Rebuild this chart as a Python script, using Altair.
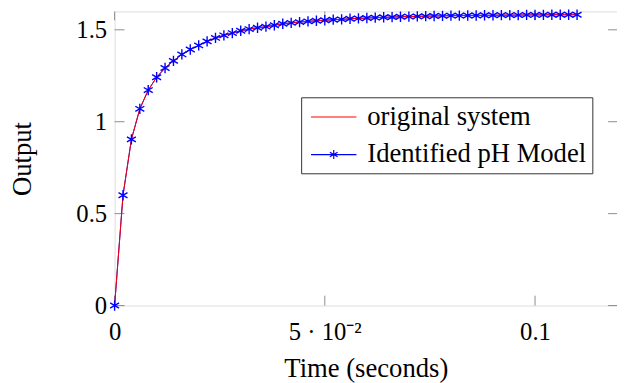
import altair as alt
import pandas as pd

# ---- data ----
time_s = [0.000, 0.002, 0.004, 0.006, 0.008, 0.010, 0.012, 0.014, 0.016, 0.018,
          0.020, 0.022, 0.024, 0.026, 0.028, 0.030, 0.032, 0.034, 0.036, 0.038,
          0.040, 0.042, 0.044, 0.046, 0.048, 0.050, 0.052, 0.054, 0.056, 0.058,
          0.060, 0.062, 0.064, 0.066, 0.068, 0.070, 0.072, 0.074, 0.076, 0.078,
          0.080, 0.082, 0.084, 0.086, 0.088, 0.090, 0.092, 0.094, 0.096, 0.098,
          0.100, 0.102, 0.104, 0.106, 0.108, 0.110]
original_system = [0.000, 0.600, 0.904, 1.070, 1.172, 1.242, 1.292, 1.331, 1.366, 1.393,
                   1.415, 1.437, 1.456, 1.470, 1.482, 1.495, 1.504, 1.511, 1.517, 1.525,
                   1.533, 1.538, 1.542, 1.546, 1.549, 1.552, 1.555, 1.557, 1.560, 1.562,
                   1.564, 1.566, 1.568, 1.569, 1.571, 1.572, 1.573, 1.574, 1.575, 1.576,
                   1.577, 1.577, 1.578, 1.578, 1.579, 1.579, 1.580, 1.580, 1.580, 1.581,
                   1.581, 1.581, 1.582, 1.582, 1.582, 1.582]
identified_model = [0.000, 0.600, 0.904, 1.070, 1.172, 1.242, 1.292, 1.331, 1.366, 1.393,
                    1.415, 1.437, 1.456, 1.470, 1.482, 1.495, 1.504, 1.511, 1.517, 1.525,
                    1.533, 1.538, 1.542, 1.546, 1.549, 1.552, 1.555, 1.557, 1.560, 1.562,
                    1.564, 1.566, 1.568, 1.569, 1.571, 1.572, 1.573, 1.574, 1.575, 1.576,
                    1.577, 1.577, 1.578, 1.578, 1.579, 1.579, 1.580, 1.580, 1.580, 1.581,
                    1.581, 1.581, 1.582, 1.582, 1.582, 1.582]
series_names = ["original system", "Identified pH Model"]
series_colors = ["#ff0000", "#0000ff"]
x_ticks = [0, 0.05, 0.1]
y_ticks = [0, 0.5, 1, 1.5]

df = pd.concat([
    pd.DataFrame({"t": time_s, "v": original_system, "s": series_names[0]}),
    pd.DataFrame({"t": time_s, "v": identified_model, "s": series_names[1]}),
])

W, H = 509, 298
FONT = "Liberation Serif"
STAR = "M0,-1L0,1M-0.866,-0.5L0.866,0.5M-0.866,0.5L0.866,-0.5"
LEG_LINE = "M-1.77,0L1.77,0"
LEG_STAR = "M-1.77,0L1.77,0M0,-0.35L0,0.35M-0.3,-0.175L0.3,0.175M-0.3,0.175L0.3,-0.175"

xs = alt.Scale(domain=[0, 0.1195], nice=False, zero=False)
ys = alt.Scale(domain=[0, 1.6], nice=False, zero=False)

x_axis = alt.Axis(values=x_ticks, ticks=False, domain=False, grid=False,
                  labelExpr="datum.value == 0.05 ? '5 · 10⁻²' : format(datum.value, '~g')",
                  labelFlush=False, labelOverlap=False, labelBound=False,
                  labelFont=FONT, labelFontSize=25, labelColor="black", labelPadding=14,
                  title="Time (seconds)", titleFont=FONT, titleFontSize=27,
                  titleFontWeight="normal", titleColor="black", titlePadding=12)
y_axis = alt.Axis(values=y_ticks, ticks=False, domain=False, grid=False,
                  labelExpr="format(datum.value, '~g')",
                  labelFont=FONT, labelFontSize=25, labelColor="black", labelPadding=8,
                  labelFlush=False, labelOverlap=False,
                  title="Output", titleFont=FONT, titleFontSize=27,
                  titleFontWeight="normal", titleColor="black", titlePadding=40)

base = alt.Chart(df)

blue_line = base.transform_filter(alt.datum.s == series_names[1]).mark_line(
    color=series_colors[1], strokeWidth=1).encode(
    x=alt.X("t:Q", scale=xs, axis=x_axis), y=alt.Y("v:Q", scale=ys, axis=y_axis))

red_line = base.transform_filter(alt.datum.s == series_names[0]).mark_line(
    color=series_colors[0], strokeWidth=1).encode(
    x=alt.X("t:Q", scale=xs), y=alt.Y("v:Q", scale=ys))

markers = base.transform_filter(alt.datum.s == series_names[1]).mark_point(
    shape=STAR, size=110, color=series_colors[1], strokeWidth=1.4, filled=False, opacity=1).encode(
    x=alt.X("t:Q", scale=xs), y=alt.Y("v:Q", scale=ys))

legend_layer = base.transform_filter("false").mark_point(filled=False, opacity=1).encode(
    x=alt.X("t:Q", scale=xs), y=alt.Y("v:Q", scale=ys),
    color=alt.Color("s:N", scale=alt.Scale(domain=series_names, range=series_colors),
                    legend=alt.Legend(title=None, orient="none", legendX=189, legendY=87,
                                      labelFont=FONT, labelFontSize=27, labelColor="black",
                                      labelLimit=500,
                                      symbolSize=676, symbolStrokeWidth=1.2,
                                      symbolOffset=13, labelOffset=20,
                                      padding=6, rowPadding=11,
                                      strokeColor="#333333", fillColor="white")),
    shape=alt.Shape("s:N", scale=alt.Scale(domain=series_names, range=[LEG_LINE, LEG_STAR]),
                    legend=None),
)

tick_style = dict(color="#8c8c8c", strokeWidth=1)
tx = pd.DataFrame({"x": x_ticks})
ty = pd.DataFrame({"y": y_ticks})
ticks_bottom = alt.Chart(tx).mark_rule(**tick_style).encode(
    x=alt.X("x:Q", scale=xs), y=alt.value(H), y2=alt.value(H - 10))
ticks_top = alt.Chart(tx).mark_rule(**tick_style).encode(
    x=alt.X("x:Q", scale=xs), y=alt.value(0), y2=alt.value(9))
ticks_left = alt.Chart(ty).mark_rule(**tick_style).encode(
    y=alt.Y("y:Q", scale=ys), x=alt.value(0), x2=alt.value(10))
ticks_right = alt.Chart(ty).mark_rule(**tick_style).encode(
    y=alt.Y("y:Q", scale=ys), x=alt.value(W), x2=alt.value(W - 9))

chart = alt.layer(
    ticks_bottom, ticks_top, ticks_left, ticks_right,
    blue_line, red_line, markers, legend_layer
).properties(
    width=W, height=H,
    autosize=alt.AutoSizeParams(type="none"),
    padding={"left": 108, "top": 1, "right": 0, "bottom": 76},
).configure_view(
    stroke="#000000", strokeWidth=1.3
).configure(background="white")

chart.save("out.html", embed_options={"renderer": "svg", "actions": False})
